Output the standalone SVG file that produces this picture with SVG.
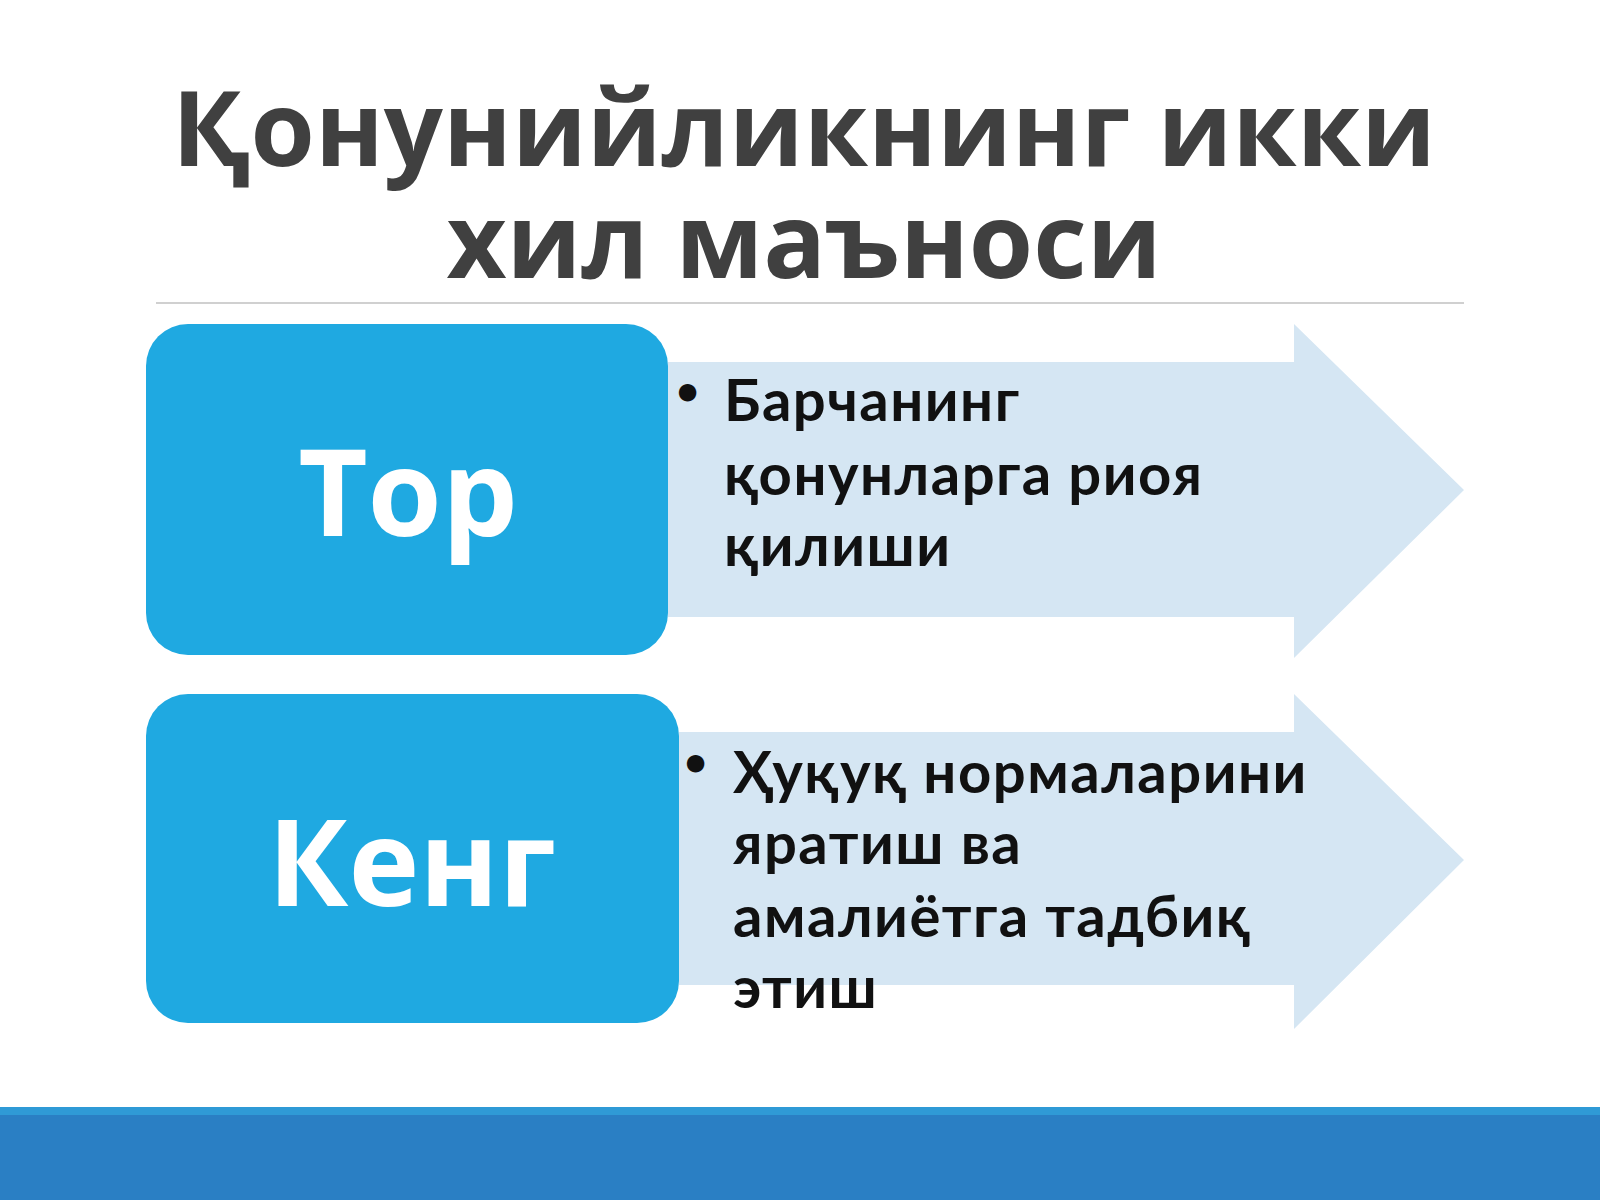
<svg xmlns="http://www.w3.org/2000/svg" width="1600" height="1200" viewBox="0 0 1600 1200">
<style>
.title{font-family:"Open Sans","DejaVu Sans",sans-serif;font-weight:bold;font-size:104px;fill:#404040;text-anchor:middle}
.box{fill:#1fa9e1}
.arrow{fill:#d5e6f3}
.big{font-family:"Open Sans","DejaVu Sans",sans-serif;font-weight:bold;font-size:120px;fill:#fff;text-anchor:middle}
.t{font-family:Lato,"DejaVu Sans",sans-serif;font-weight:bold;font-size:58px;letter-spacing:1.5px;fill:#111}
.b{font-family:Lato,"DejaVu Sans",sans-serif;font-weight:bold;font-size:40px;fill:#111}
</style>
<rect width="1600" height="1200" fill="#fff"/>
<g id="title">
<text class="title" x="804" y="166">Қонунийликнинг икки</text>
<text class="title" x="804" y="278">хил маъноси</text>
<line x1="156" y1="303" x2="1464" y2="303" stroke="#d0d0d0" stroke-width="2"/>
</g>
<g id="arrow1"><polygon class="arrow" points="668,362 1294,362 1294,324 1464,490 1294,658 1294,617 668,617"/>
<text class="b" x="676" y="405">•</text>
<text class="t" x="724" y="421">Барчанинг</text>
<text class="t" x="724" y="495">қонунларга риоя</text>
<text class="t" x="724" y="566">қилиши</text></g>
<g id="node1"><rect class="box" x="146" y="324" width="522" height="331" rx="42"/>
<text class="big" x="408" y="536">Тор</text></g>
<g id="arrow2"><polygon class="arrow" points="679,732 1294,732 1294,694 1464,860 1294,1029 1294,985 679,985"/>
<text class="b" x="684" y="776">•</text>
<text class="t" x="733" y="793">Ҳуқуқ нормаларини</text>
<text class="t" x="733" y="864">яратиш ва</text>
<text class="t" x="733" y="937">амалиётга тадбиқ</text>
<text class="t" x="733" y="1008">этиш</text></g>
<g id="node2"><rect class="box" x="146" y="694" width="533" height="329" rx="42"/>
<text class="big" x="412" y="906">Кенг</text></g>
<g id="footer"><rect x="0" y="1107" width="1600" height="93" fill="#2a7fc4"/>
<rect x="0" y="1107" width="1600" height="8" fill="#2f9ad6"/></g>
</svg>
